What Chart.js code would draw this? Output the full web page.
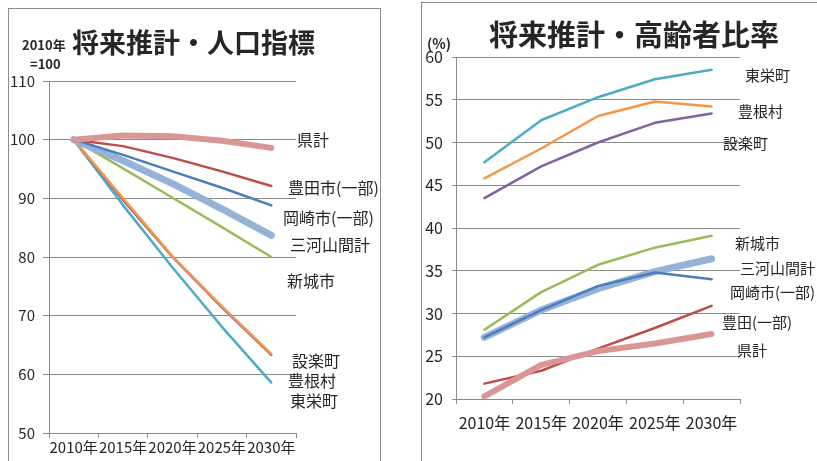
<!DOCTYPE html>
<html><head><meta charset="utf-8">
<script src="https://cdn.jsdelivr.net/npm/chart.js@4.4.1/dist/chart.umd.min.js"></script>
<style>
html,body{margin:0;padding:0;background:#fff;overflow:hidden;width:817px;height:461px;}
#f1{position:absolute;left:8px;top:8px;width:371px;height:470px;border:1px solid #8c8c8c;}
#f2{position:absolute;left:421px;top:2px;width:420px;height:470px;border:1px solid #8c8c8c;}
#c1{position:absolute;left:0;top:0;}
#c2{position:absolute;left:410px;top:0;}
</style></head><body>
<div id="f1"></div><div id="f2"></div>
<canvas id="c1" width="410" height="461"></canvas>
<canvas id="c2" width="407" height="461"></canvas>
<script>
// ---- data ----
const years = ['2010年','2015年','2020年','2025年','2030年'];
const popNames = ['県計','豊田市(一部)','岡崎市(一部)','三河山間計','新城市','設楽町','豊根村','東栄町'];
const agedNames = ['県計','豊田(一部)','岡崎市(一部)','三河山間計','新城市','設楽町','豊根村','東栄町'];

// population index (2010 = 100)
const popKen      = [100, 100.7, 100.6, 99.8, 98.6];
const popToyota   = [100, 98.9, 96.9, 94.6, 92.1];
const popOkazaki  = [100, 97.4, 94.6, 91.8, 88.8];
const popSankan   = [100, 96.4, 92.5, 88.2, 83.7];
const popShinshiro= [100, 95.1, 90.1, 85.1, 80.0];
const popShitara  = [100, 89.7, 80.0, 71.4, 63.3];
const popToyone   = [100, 90.0, 80.1, 71.6, 63.5];
const popToei     = [100, 88.8, 78.2, 68.1, 58.6];

// aged ratio (%)
const agedKen      = [20.3, 24.0, 25.6, 26.5, 27.6];
const agedToyota   = [21.8, 23.3, 25.9, 28.3, 30.9];
const agedOkazaki  = [27.2, 30.4, 33.2, 34.8, 34.0];
const agedSankan   = [27.2, 30.4, 32.9, 34.9, 36.4];
const agedShinshiro= [28.1, 32.5, 35.7, 37.7, 39.1];
const agedShitara  = [43.5, 47.2, 50.0, 52.3, 53.4];
const agedToyone   = [45.8, 49.3, 53.1, 54.8, 54.2];
const agedToei     = [47.7, 52.6, 55.3, 57.4, 58.5];

const popTicks = [50, 60, 70, 80, 90, 100, 110];
const agedTicks = [20, 25, 30, 35, 40, 45, 50, 55, 60];

// ---- styles ----
const FONT = "'Noto Sans CJK JP','Noto Sans',sans-serif";
Chart.defaults.font.family = FONT;
const GRID = '#8a8a8a';
const TXT = '#262626';
const colors = ['#d99694','#be4b48','#4a7ebb','#95b3d7','#9bbb59','#8064a2','#f79646','#4bacc6'];
const widths = [6, 2.5, 2.5, 7, 2.5, 2.5, 2.5, 2.5];
const drawOrder = [0, 1, 2, 3, 4, 6, 5, 7];

function makeDatasets(names, arrays){
  return names.map((n,i)=>({
    label:n, data:arrays[i], borderColor:colors[i], backgroundColor:colors[i],
    borderWidth:widths[i], pointRadius:0, tension:0, fill:false, order:drawOrder[i],
    borderCapStyle:'round', borderJoinStyle:'round', clip:false
  }));
}

const textPlugin = {
  id:'texts',
  afterDraw(chart, args, opts){
    const ctx = chart.ctx, ys = chart.scales.y, ca = chart.chartArea;
    ctx.save();
    (opts.items||[]).forEach(it=>{
      ctx.font = it.font; ctx.fillStyle = it.color || TXT;
      ctx.textBaseline = 'middle'; ctx.textAlign = it.align || 'left';
      const x = it.dx !== undefined ? ca.right + it.dx : it.x;
      const y = it.v !== undefined ? ys.getPixelForValue(it.v) : it.y;
      ctx.fillText(it.text, x, y);
    });
    ctx.restore();
  }
};

function makeChart(id, cfg){
  return new Chart(document.getElementById(id), {
    type:'line',
    data:{labels:years, datasets:makeDatasets(cfg.names, cfg.arrays)},
    plugins:[textPlugin],
    options:{
      responsive:false, animation:false, devicePixelRatio:1,
      layout:{padding:cfg.padding},
      plugins:{legend:{display:false}, tooltip:{enabled:false}, title:{display:false},
        texts:{items:cfg.texts}},
      scales:{
        x:{type:'category', offset:true,
          grid:{offset:true, drawOnChartArea:false, drawTicks:true, tickLength:cfg.xTick, color:GRID},
          border:{display:true, color:GRID},
          ticks:{font:{size:cfg.xFont}, color:TXT, padding:cfg.xPad, maxRotation:0, autoSkip:false},
          afterFit:s=>{s.height = cfg.xH;}
        },
        y:{min:cfg.ticks[0], max:cfg.ticks[cfg.ticks.length-1],
          afterBuildTicks:s=>{s.ticks = cfg.ticks.map(v=>({value:v}));},
          grid:{color:GRID, drawTicks:true, tickLength:cfg.yTick},
          border:{display:true, color:GRID},
          ticks:{font:{size:cfg.yFont}, color:TXT, padding:cfg.yPad},
          afterFit:s=>{s.width = cfg.yW;}
        }
      }
    }
  });
}

const B = (s)=>'bold '+s+'px '+FONT;
const N = (s)=>s+'px '+FONT;

makeChart('c1', {
  names:popNames,
  arrays:[popKen,popToyota,popOkazaki,popSankan,popShinshiro,popShitara,popToyone,popToei],
  ticks:popTicks,
  padding:{left:0, top:81, right:114, bottom:0},
  xH:28, xTick:5, xFont:15, xPad:0,
  yW:49, yTick:6, yFont:15, yPad:8,
  texts:[
    {text:'将来推計・人口指標', font:B(27), x:72, y:43},
    {text:'2010年', font:B(13), x:22, y:45},
    {text:'=100', font:B(13), x:30, y:64},
    {text:popNames[0], font:N(16), dx:1,  v:100},
    {text:popNames[1], font:N(16), dx:-8, v:91.8},
    {text:popNames[2], font:N(16), dx:-13,v:86.6},
    {text:popNames[3], font:N(16), dx:-6, v:82.0},
    {text:popNames[4], font:N(16), dx:-9, v:76.0},
    {text:popNames[5], font:N(16), dx:-4, v:62.3},
    {text:popNames[6], font:N(16), dx:-8, v:58.8},
    {text:popNames[7], font:N(16), dx:-6, v:55.4}
  ]
});

makeChart('c2', {
  names:agedNames,
  arrays:[agedKen,agedToyota,agedOkazaki,agedSankan,agedShinshiro,agedShitara,agedToyone,agedToei],
  ticks:agedTicks,
  padding:{left:0, top:57, right:77, bottom:0},
  xH:62, xTick:5, xFont:16, xPad:9,
  yW:46, yTick:4, yFont:16, yPad:9,
  texts:[
    {text:'将来推計・高齢者比率', font:B(29), x:224, y:35, align:'center'},
    {text:'(%)', font:B(14), x:17, y:44},
    {text:agedNames[7], font:N(15), dx:5,   v:57.9},
    {text:agedNames[6], font:N(15), dx:-2,  v:53.7},
    {text:agedNames[5], font:N(15), dx:-17, v:49.9},
    {text:agedNames[4], font:N(15), dx:-5,  v:38.2},
    {text:agedNames[3], font:N(15), dx:0,   v:35.3},
    {text:agedNames[2], font:N(15), dx:-10, v:32.5},
    {text:agedNames[1], font:N(15), dx:-18, v:29.0},
    {text:agedNames[0], font:N(15), dx:-3,  v:25.7}
  ]
});
</script>
</body></html>
